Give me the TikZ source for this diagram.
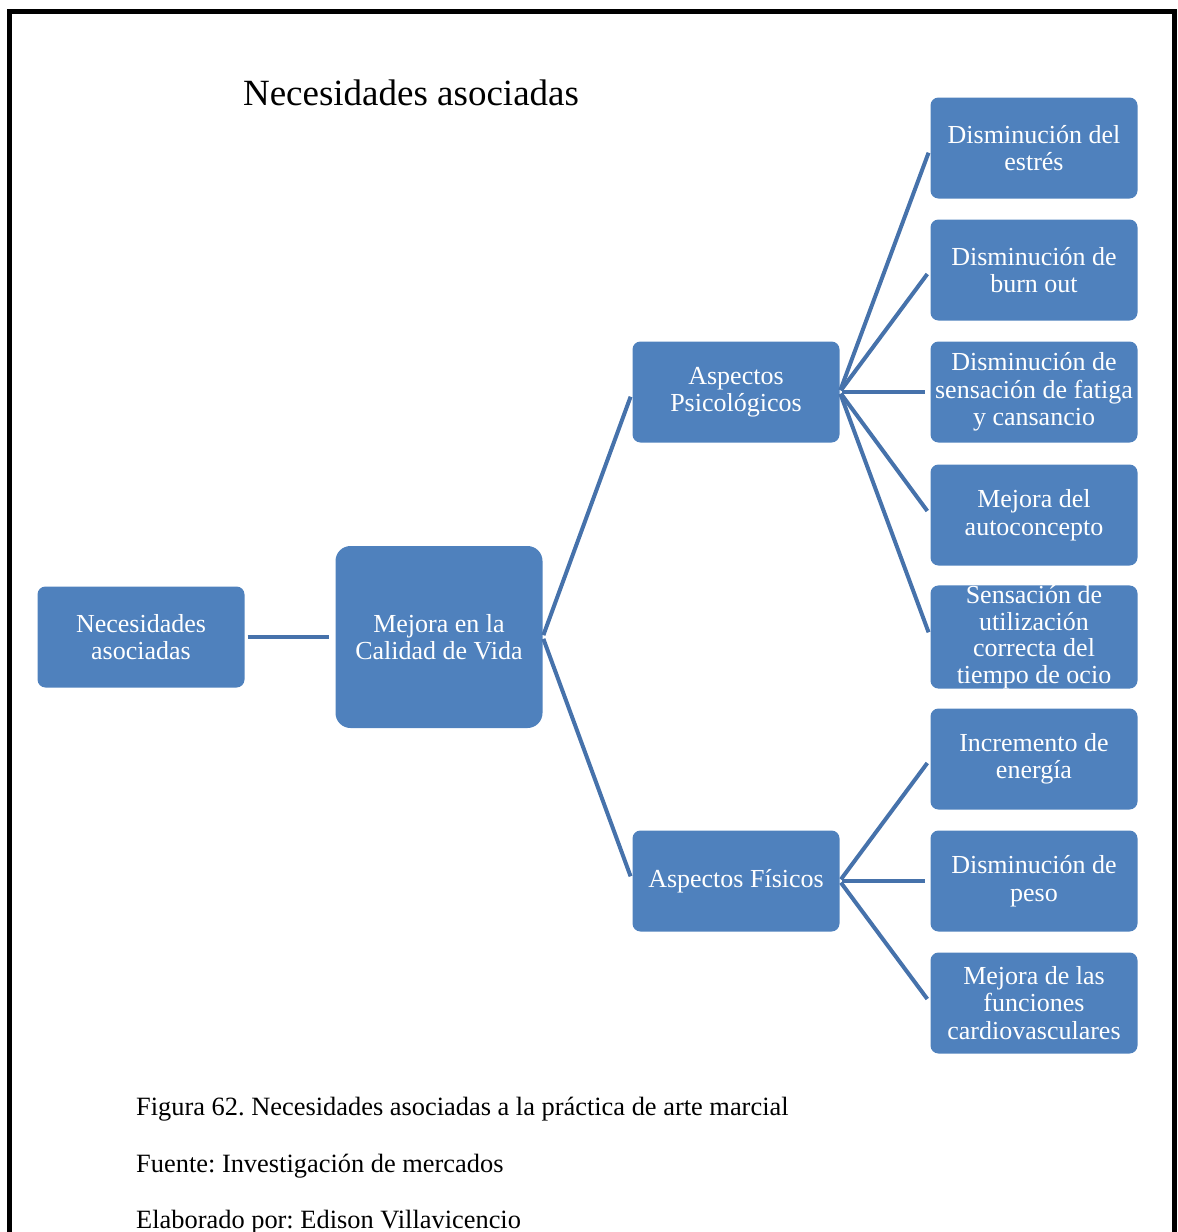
\documentclass[tikz,border=0pt]{standalone}
\usepackage{fontspec}
\setmainfont{Liberation Serif}
\usetikzlibrary{positioning}
\frenchspacing

\definecolor{boxblue}{HTML}{4F81BD}
\definecolor{linkblue}{HTML}{4672AB}

\begin{document}
\begin{tikzpicture}[x=1pt,y=-1pt,
    box/.style={fill=boxblue,rounded corners=8pt,minimum width=207pt,minimum height=101pt,
        inner sep=0pt,align=center,text=white,font=\fontsize{26}{27.5}\selectfont},
    bigbox/.style={box,minimum height=182pt,rounded corners=15pt},
    link/.style={draw=linkblue,line width=4pt,shorten <=2pt,shorten >=5pt},
    pie/.style={anchor=base west,inner sep=0pt,font=\fontsize{26.4}{28}\selectfont}]
            \useasboundingbox (0,0) rectangle (1178,1232);
            \draw[line width=5pt] (9.5,1245) -- (9.5,11) -- (1174.5,11) -- (1174.5,1245);
            \node[font=\fontsize{37}{40}\selectfont] (title) at (411,93) {Necesidades asociadas};
            % arbol
            \node[box] (root) at (141,637) {Necesidades\\asociadas};
            \node[bigbox] (mejora) at (439,637) {Mejora en la\\Calidad de Vida};
            \node[box] (psico) at (736,392) {Aspectos\\Psicológicos};
            \node[box] (fisico) at (736,881) {Aspectos Físicos};
            \node[box] (p1) at (1034,148) {Disminución del\\estrés};
            \node[box] (p2) at (1034,270) {Disminución de\\burn out};
            \node[box] (p3) at (1034,392) {Disminución de\\sensación de fatiga\\y cansancio};
            \node[box] (p4) at (1034,515) {Mejora del\\autoconcepto};
            \node[box,font=\fontsize{26}{26.5}\selectfont] (p5) at (1034,637) {Sensación de\\utilización\\correcta del\\tiempo de ocio};
            \node[box] (f1) at (1034,759) {Incremento de\\energía};
            \node[box] (f2) at (1034,881) {Disminución de\\peso};
            \node[box] (f3) at (1034,1003) {Mejora de las\\funciones\\cardiovasculares};
            \draw[link,shorten <=3pt,shorten >=6pt] (root) -- (mejora);
            \foreach \n in {psico,fisico}
                \draw[link] (mejora.east) -- (\n.west);
            \foreach \n in {p1,p2,p3,p4,p5}
                \draw[link] (psico.east) -- (\n.west);
            \foreach \n in {f1,f2,f3}
                \draw[link] (fisico.east) -- (\n.west);
            % pie de figura
            \node[pie] (fig) at (136,1115) {Figura 62. Necesidades asociadas a la práctica de arte marcial};
            \node[pie] (fuente) at (136,1172) {Fuente: Investigación de mercados};
            \node[pie] (autor) at (136,1228) {Elaborado por: Edison Villavicencio};
        \end{tikzpicture}
\end{document}
